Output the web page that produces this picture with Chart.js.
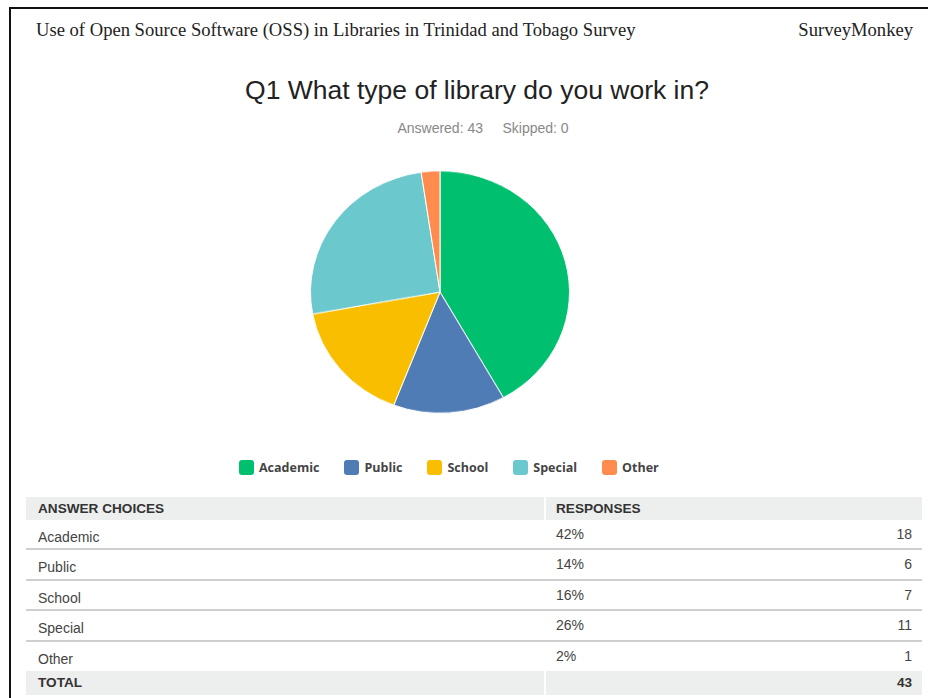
<!DOCTYPE html>
<html>
<head>
<meta charset="utf-8">
<script src="https://cdn.jsdelivr.net/npm/chart.js@4.4.1/dist/chart.umd.min.js"></script>
<style>
  body { margin: 0; width: 928px; height: 698px; background: #fff; overflow: hidden; position: relative; font-family: "Liberation Sans", Arial, sans-serif; }
  .frame { position: absolute; left: 9px; top: 7px; width: 940px; height: 720px; border-top: 2px solid #111; border-left: 2px solid #111; }
  .head { position: absolute; top: 19px; font-family: "Liberation Serif", "Times New Roman", serif; font-size: 18.6px; color: #222; }
  .title { position: absolute; left: 0; width: 954px; top: 75px; text-align: center; font-size: 26.5px; color: #222; }
  .sub { position: absolute; left: 0; width: 966px; top: 120px; text-align: center; font-size: 14px; color: #888; }
  #pieWrap { position: absolute; left: 310px; top: 161px; width: 260px; height: 262px; transform: scaleY(0.935); transform-origin: 50% 50%; }
  #legend { position: absolute; left: 239px; top: 459px; display: flex; font-family: "Open Sans", sans-serif; font-weight: bold; font-size: 12.5px; color: #444; }
  #legend .item { display: flex; align-items: center; margin-right: 25px; }
  #legend .box { width: 15px; height: 15px; border-radius: 3px; margin-right: 5px; }
  #answers { position: absolute; left: 26px; top: 497px; width: 896px; font-size: 14px; color: #444; }
  .row { position: relative; height: 28.4px; border-bottom: 2px solid #cfcfcf; }
  .row span { position: absolute; }
  .row .lbl { left: 12px; top: 9px; }
  .row .pct { left: 530px; top: 6px; }
  .row .num { right: 10px; top: 6px; }
  .row.last { border-bottom: none; height: 29px; }
  .hdr, .tot { position: relative; height: 23px; display: flex; font-weight: bold; color: #333; font-size: 13.6px; }
  .tot { height: 24px; }
  .hdr div, .tot div { background: #edeeee; line-height: 24px; }
  .hdr div:first-child, .tot div:first-child { width: 506px; padding-left: 12px; margin-right: 2px; }
  .hdr div:last-child { flex: 1; padding-left: 10px; }
  .tot div:last-child { flex: 1; text-align: right; padding-right: 10px; }
</style>
</head>
<body>
<div class="frame"></div>
<div class="head" style="left:36px">Use of Open Source Software (OSS) in Libraries in Trinidad and Tobago Survey</div>
<div class="head" style="right:15px">SurveyMonkey</div>
<div class="title">Q1 What type of library do you work in?</div>
<div class="sub">Answered: 43&nbsp;&nbsp;&nbsp;&nbsp;&nbsp;Skipped: 0</div>
<div id="pieWrap"><canvas id="pieChart" width="260" height="262"></canvas></div>
<div id="legend"></div>
<div id="answers">
  <div class="hdr"><div>ANSWER CHOICES</div><div>RESPONSES</div></div>
</div>
<script>
const choices = ['Academic', 'Public', 'School', 'Special', 'Other'];
const counts = [18, 6, 7, 11, 1];
const colors = ['#00bf6f', '#507cb6', '#f9be00', '#6bc8cd', '#ff8b4f'];

const total = counts.reduce((a, b) => a + b, 0);

new Chart(document.getElementById('pieChart').getContext('2d'), {
    type: 'pie',
    data: {
        labels: choices,
        datasets: [{
            data: counts,
            backgroundColor: colors,
            borderColor: '#ffffff',
            borderWidth: 1
        }]
    },
    options: {
        responsive: false,
        animation: false,
        plugins: {
            legend: { display: false },
            tooltip: { enabled: false }
        }
    }
});

// legend under the pie
const legend = document.getElementById('legend');
choices.forEach((name, i) => {
    const item = document.createElement('div');
    item.className = 'item';
    item.innerHTML = `<span class="box" style="background:${colors[i]}"></span>${name}`;
    legend.appendChild(item);
});

// answer table
const table = document.getElementById('answers');
choices.forEach((name, i) => {
    const row = document.createElement('div');
    row.className = i === choices.length - 1 ? 'row last' : 'row';
    const pct = Math.round(counts[i] / total * 100);
    row.innerHTML = `<span class="lbl">${name}</span><span class="pct">${pct}%</span><span class="num">${counts[i]}</span>`;
    table.appendChild(row);
});
const totalRow = document.createElement('div');
totalRow.className = 'tot';
totalRow.innerHTML = `<div>TOTAL</div><div>${total}</div>`;
table.appendChild(totalRow);
</script>
</body>
</html>
